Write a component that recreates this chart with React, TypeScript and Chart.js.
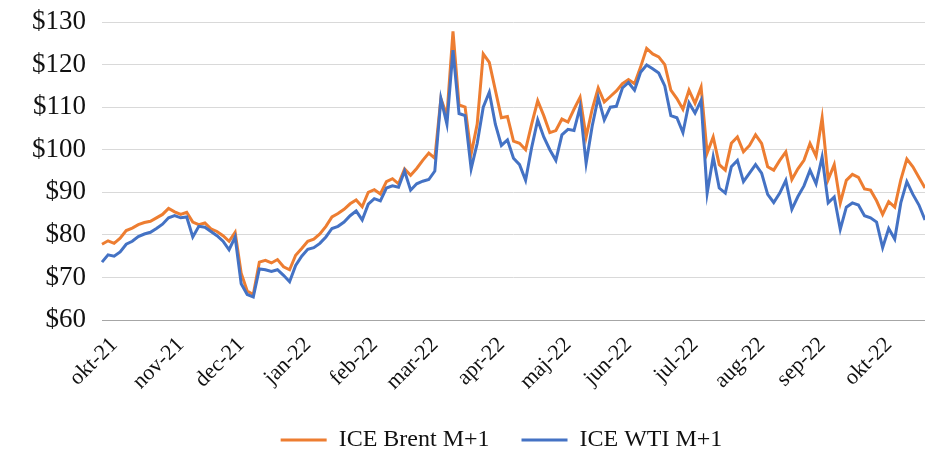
import React, { useEffect, useRef } from 'react';
import { Chart, registerables } from 'chart.js';

Chart.register(...registerables);

const monthLabels = ['okt-21', 'nov-21', 'dec-21', 'jan-22', 'feb-22', 'mar-22', 'apr-22', 'maj-22', 'jun-22', 'jul-22', 'aug-22', 'sep-22', 'okt-22'];
const monthStartIndex = [2, 13, 23, 34, 45, 55, 66, 77, 87, 98, 109, 119, 130];

const brent = [
  77.8, 78.6, 78.0, 79.2, 81.0, 81.6, 82.4, 82.9, 83.2, 84.0,
  84.8, 86.2, 85.4, 84.8, 85.3, 83.0, 82.4, 82.8, 81.4, 80.8,
  79.8, 78.5, 80.6, 71.0, 66.8, 66.0, 73.6, 74.0, 73.4, 74.2,
  72.5, 71.8, 75.2, 76.8, 78.5, 79.0, 80.2, 82.0, 84.2, 85.0,
  86.0, 87.3, 88.2, 86.6, 90.0, 90.6, 89.6, 92.5, 93.2, 92.0,
  95.5, 94.0, 95.6, 97.5, 99.2, 98.0, 112.0, 108.0, 127.8, 110.5,
  110.0, 99.0, 106.0, 122.5, 120.5, 114.0, 107.5, 107.8, 102.0, 101.5,
  100.0, 106.0, 111.5, 108.0, 104.0, 104.5, 107.2, 106.5, 109.5, 112.3,
  103.0, 109.5, 114.5, 111.2, 112.5, 113.8, 115.5, 116.5, 115.5, 119.4,
  123.8, 122.5, 121.8, 120.0, 114.0, 112.0, 109.5, 114.0, 110.9, 114.7,
  99.2, 103.0, 96.5, 95.2, 101.5, 103.0, 99.5, 101.0, 103.5, 101.5,
  96.0, 95.2, 97.5, 99.5, 93.0, 95.5, 97.5, 101.5, 98.5, 107.5,
  93.0, 96.5, 87.5, 92.8, 94.2, 93.5, 90.8, 90.5, 88.0, 84.8,
  87.8, 86.5, 92.9, 97.8, 96.0, 93.5, 91.0,
];

const wti = [
  73.6, 75.3, 75.0, 76.0, 77.8, 78.5, 79.6, 80.2, 80.6, 81.5,
  82.5, 84.0, 84.5, 84.0, 84.2, 79.5, 82.0, 81.8, 80.8, 79.8,
  78.5, 76.5, 79.5, 68.5, 66.0, 65.4, 72.0, 71.8, 71.4, 71.8,
  70.5, 69.0, 72.8, 75.0, 76.6, 77.0, 78.0, 79.5, 81.5, 82.0,
  83.0, 84.5, 85.6, 83.5, 87.2, 88.5, 88.0, 91.0, 91.5, 91.2,
  95.0, 90.5, 92.0, 92.6, 93.0, 95.0, 112.0, 106.0, 123.4, 108.5,
  108.0, 95.5, 101.5, 110.0, 113.5, 106.0, 101.0, 102.3, 98.0, 96.5,
  92.8, 100.5, 107.0, 103.0, 100.0, 97.5, 103.5, 104.8, 104.5, 110.0,
  96.8, 105.5, 112.3, 107.0, 110.0, 110.2, 114.5, 115.8, 114.0, 118.2,
  119.9, 119.0, 118.0, 115.0, 108.0, 107.5, 104.0, 111.0, 108.6, 111.6,
  89.8, 98.3, 91.0, 89.8, 96.0, 97.5, 92.5, 94.5, 96.5, 94.5,
  89.5, 87.6, 89.8, 92.8, 86.0, 89.0, 91.5, 95.2, 92.0, 98.3,
  87.5, 88.9, 81.3, 86.5, 87.5, 87.0, 84.5, 84.0, 83.0, 77.0,
  81.5, 79.0, 87.5, 92.5, 89.5, 87.0, 83.5,
];

const seriesNames = ['ICE Brent M+1', 'ICE WTI M+1'];
const yMin = 60;
const yMax = 130;
const yStep = 10;

const FONT = "'Liberation Serif', 'Times New Roman', serif";
const LEGEND_FONT_SIZE = 24;
const LEGEND_PAD = 32;
const LEGEND_CENTER_Y = 440;

const legendShift = {
  id: 'legendShift',
  afterLayout(chart: any) {
    const lg = chart.legend;
    if (lg) {
      lg.left -= 12;
      lg.right -= 12;
      const dy = LEGEND_CENTER_Y - (lg.top + LEGEND_PAD + LEGEND_FONT_SIZE / 2);
      lg.top += dy;
      lg.bottom += dy;
    }
  },
};

export default function App() {
  const ref = useRef<HTMLCanvasElement>(null);

  useEffect(() => {
    if (!ref.current) return;
    const categories = brent.map((_, i) => {
      const m = monthStartIndex.indexOf(i);
      return m >= 0 ? monthLabels[m] : '';
    });
    const chart = new Chart(ref.current, {
      type: 'line',
      data: {
        labels: categories,
        datasets: [
          {
            label: seriesNames[0],
            data: brent,
            borderColor: '#ED7D31',
            backgroundColor: '#ED7D31',
            borderWidth: 3,
            pointRadius: 0,
            tension: 0,
            order: 1,
          },
          {
            label: seriesNames[1],
            data: wti,
            borderColor: '#4472C4',
            backgroundColor: '#4472C4',
            borderWidth: 3,
            pointRadius: 0,
            tension: 0,
            order: 0,
          },
        ],
      },
      plugins: [legendShift],
      options: {
        responsive: false,
        animation: false,
        layout: { padding: { top: 22, bottom: 0, left: 0, right: 0 } },
        plugins: {
          tooltip: { enabled: false },
          legend: {
            position: 'bottom',
            fullSize: false,
            maxHeight: 57,
            labels: {
              usePointStyle: true,
              pointStyle: 'line',
              pointStyleWidth: 46,
              font: { family: FONT, size: LEGEND_FONT_SIZE },
              color: '#111',
              padding: LEGEND_PAD,
              sort: (a: any, b: any) => a.datasetIndex - b.datasetIndex,
            },
          },
        },
        scales: {
          x: {
            type: 'category',
            grid: { display: false },
            border: { display: true, color: '#A6A6A6', width: 1 },
            ticks: {
              autoSkip: false,
              minRotation: 45,
              maxRotation: 45,
              padding: 4,
              color: '#111',
              font: { family: FONT, size: 22 },
              callback: (_v: any, index: number) => (categories[index] ? categories[index] : null),
            },
            afterFit: (s: any) => {
              s.height = 75;
            },
          },
          y: {
            min: yMin,
            max: yMax,
            grid: { color: '#D9D9D9', lineWidth: 1, drawTicks: false },
            border: { display: false },
            ticks: {
              stepSize: yStep,
              padding: 16,
              color: '#111',
              font: { family: FONT, size: 27 },
              callback: (v: any) => '$' + v,
            },
            afterFit: (s: any) => {
              s.width = 102;
              s.paddingTop = 0;
              s.paddingBottom = 0;
            },
          },
        },
      },
    });
    return () => chart.destroy();
  }, []);

  return (
    <div style={{ position: 'absolute', left: 0, top: 0, width: 925, height: 452, background: '#fff' }}>
      <canvas ref={ref} width={925} height={452} style={{ width: 925, height: 452 }} />
    </div>
  );
}
